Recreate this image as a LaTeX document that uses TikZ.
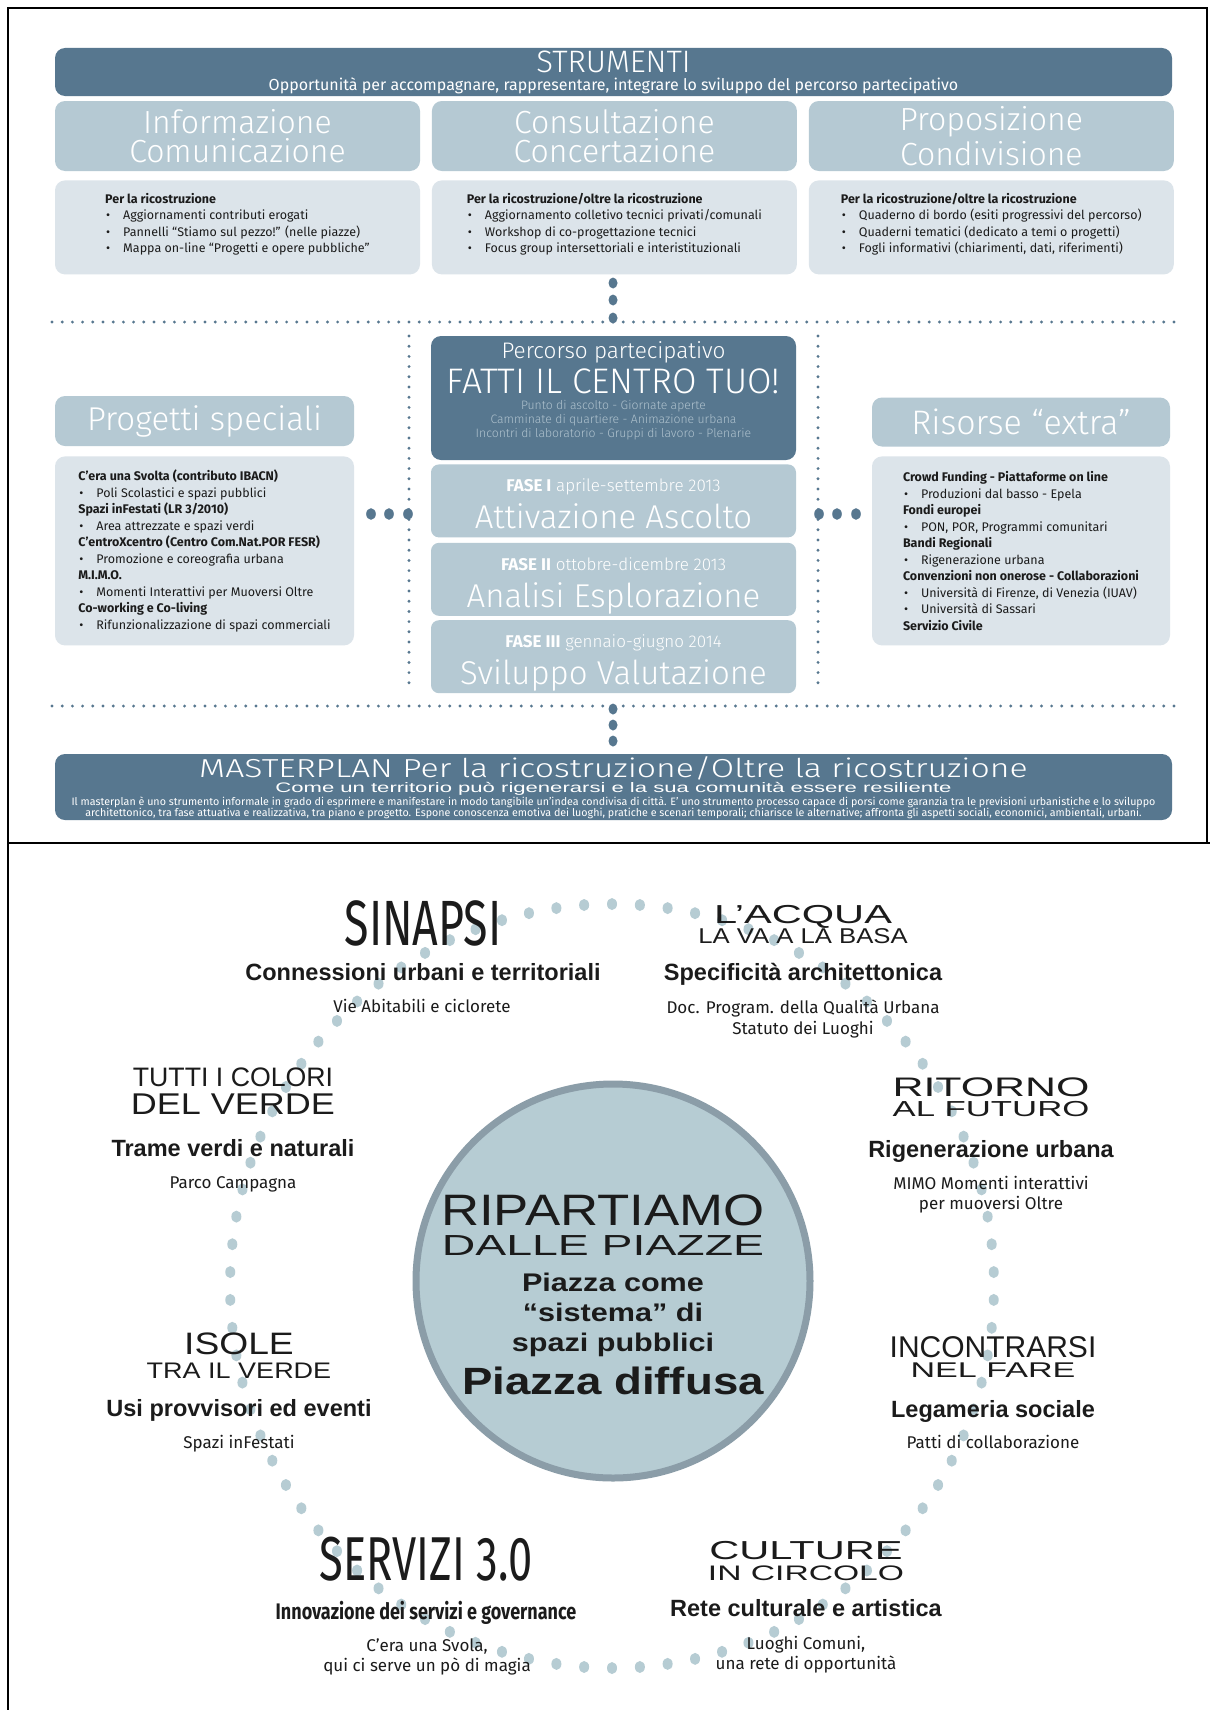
\documentclass[tikz,border=0pt]{standalone}
\usepackage{fontspec}
\setmainfont{Fira Sans}
\newfontfamily\lightfont{Fira Sans Light}
\newfontfamily\spreadfont[FakeStretch=1.3]{Fira Sans Light}
\newfontfamily\condfont[FakeStretch=0.7]{Fira Sans}
\newfontfamily\squeezefont[FakeStretch=0.8]{Fira Sans}
\newfontfamily\flatfont{Liberation Sans}
\newfontfamily\widefont[FakeStretch=1.2]{Liberation Sans}
\newfontfamily\widerfont[FakeStretch=1.6]{Liberation Sans}
\usetikzlibrary{positioning}

\definecolor{slate}{HTML}{57778F}
\definecolor{mist}{HTML}{B5C9D3}
\definecolor{pale}{HTML}{DCE4EA}
\definecolor{bead}{HTML}{B6CCD3}
\definecolor{rim}{HTML}{8B9DA8}
\definecolor{ink}{HTML}{1B1B1B}
\definecolor{faint}{HTML}{AFC2CE}

\newcommand{\fsz}[2]{\fontsize{#1}{#2}\selectfont}
\newcommand{\itm}[1]{\\\hspace*{1pt}\makebox[17pt][l]{\textbullet}#1}

\begin{document}
\begin{tikzpicture}[x=1pt, y=-1pt,
  band/.style={fill=slate, rounded corners=10pt, inner sep=0pt},
  tab/.style={fill=mist, rounded corners=10pt, inner sep=0pt, text=white, align=center},
  panel/.style={fill=pale, rounded corners=10pt, inner sep=0pt, align=left, text=ink, font=\fsz{12.5}{16.5}},
  fase/.style={fill=mist, rounded corners=8pt, inner sep=0pt, minimum width=365pt, minimum height=73pt},
  txt/.style={inner sep=0pt, text depth=0pt},
  topic/.style={txt, text=ink, font=\flatfont\bfseries\fsz{23.5}{23.5}},
  note/.style={txt, text=ink, align=center, font=\fsz{17}{20.5}},
  dotline/.style={slate, line width=3.2pt, line cap=round, dash pattern=on 0pt off 10.2pt}]

\fill[white] (0,0) rectangle (1210,1710);
\useasboundingbox (0,0) rectangle (1210,1710);
\draw[line width=2pt] (8,1710) -- (8,8) -- (1207,8) -- (1207,843);
\draw[line width=2pt] (8,843) -- (1210,843);

% strumenti
\node[band, minimum width=1117pt, minimum height=48pt] (strumenti) at (613.5,72) {};
\node[txt, white, font=\lightfont\fsz{31}{31}] (strumenti_t) at (613.5,62) {STRUMENTI};
\node[txt, white, font=\fsz{16}{16}] (strumenti_s) at (613.5,84) {Opportunità per accompagnare, rappresentare, integrare lo sviluppo del percorso partecipativo};

\node[tab, minimum width=365pt, minimum height=70pt, font=\lightfont\fsz{32}{29}] (info) at (237.5,136) {Informazione\\Comunicazione};
\node[tab, minimum width=365pt, minimum height=70pt, font=\lightfont\fsz{32}{29}, right=11.5pt of info] (consult) {Consultazione\\Concertazione};
\node[tab, minimum width=365pt, minimum height=70pt, font=\lightfont\fsz{32}{35}, right=11.5pt of consult] (propos) {Proposizione\\Condivisione};

\node[panel, text depth=9pt, minimum width=365pt, minimum height=94pt, below=9pt of info] (info_list) {\textbf{Per la ricostruzione}\itm{Aggiornamenti contributi erogati}\itm{Pannelli “Stiamo sul pezzo!” (nelle piazze)}\itm{Mappa on-line “Progetti e opere pubbliche”}};
\node[panel, text depth=9pt, minimum width=365pt, minimum height=94pt, below=9pt of consult] (consult_list) {\textbf{Per la ricostruzione/oltre la ricostruzione}\itm{Aggiornamento colletivo tecnici privati/comunali}\itm{Workshop di co-progettazione tecnici}\itm{Focus group intersettoriali e interistituzionali}};
\node[panel, text depth=9pt, minimum width=365pt, minimum height=94pt, below=9pt of propos] (propos_list) {\textbf{Per la ricostruzione/oltre la ricostruzione}\itm{Quaderno di bordo (esiti progressivi del percorso)}\itm{Quaderni tematici (dedicato a temi o progetti)}\itm{Fogli informativi (chiarimenti, dati, riferimenti)}};

\foreach \y in {283,300,318} \fill[slate] (613,\y) ellipse [x radius=4.5, y radius=5.5];
\draw[dotline] (52,322) -- (1174,322);
\draw[dotline] (52,706) -- (1174,706);
\draw[dotline] (409,336) -- (409,692);
\draw[dotline] (818,336) -- (818,692);

% percorso partecipativo
\node[band, minimum width=365pt, minimum height=124pt] (percorso) at (613.5,398) {};
\node[txt, white, font=\lightfont\fsz{22.5}{22.5}] (percorso_t) at (613.5,350) {Percorso partecipativo};
\node[txt, white, font=\lightfont\fsz{35.5}{35.5}] (fatti) at (613.5,381) {FATTI IL CENTRO TUO!};
\node[txt, faint, align=center, font=\lightfont\fsz{12.2}{14}] (fatti_s) at (613.5,419) {Punto di ascolto - Giornate aperte\\Camminate di quartiere - Animazione urbana\\Incontri di laboratorio - Gruppi di lavoro - Plenarie};

\node[fase, below=4pt of percorso] (fase1) {};
\node[fase, below=5pt of fase1] (fase2) {};
\node[fase, below=4pt of fase2] (fase3) {};
\node[txt, white, font=\lightfont\fsz{17}{17}] (fase1_d) at ([yshift=15.5pt]fase1.center) {{\normalfont\bfseries FASE I} aprile-settembre 2013};
\node[txt, white, font=\lightfont\fsz{33}{33}] (fase1_t) at ([yshift=-15.5pt]fase1.center) {Attivazione Ascolto};
\node[txt, white, font=\lightfont\fsz{17}{17}] (fase2_d) at ([yshift=15.5pt]fase2.center) {{\normalfont\bfseries FASE II} ottobre-dicembre 2013};
\node[txt, white, font=\lightfont\fsz{33}{33}] (fase2_t) at ([yshift=-15.5pt]fase2.center) {Analisi Esplorazione};
\node[txt, white, font=\lightfont\fsz{17}{17}] (fase3_d) at ([yshift=15.5pt]fase3.center) {{\normalfont\bfseries FASE III} gennaio-giugno 2014};
\node[txt, white, font=\lightfont\fsz{33}{33}] (fase3_t) at ([yshift=-15.5pt]fase3.center) {Sviluppo Valutazione};

% side columns
\node[tab, minimum width=299pt, minimum height=50pt, font=\lightfont\fsz{33}{33}] (progetti) at (204.5,421) {Progetti speciali};
\node[panel, minimum width=299pt, minimum height=189pt, below=10pt of progetti] (progetti_list) {\textbf{C’era una Svolta (contributo IBACN)}\itm{Poli Scolastici e spazi pubblici}\\\textbf{Spazi inFestati (LR 3/2010)}\itm{Area attrezzate e spazi verdi}\\\textbf{C’entroXcentro (Centro Com.Nat.POR FESR)}\itm{Promozione e coreografia urbana}\\\textbf{M.I.M.O.}\itm{Momenti Interattivi per Muoversi Oltre}\\\textbf{Co-working e Co-living}\itm{Rifunzionalizzazione di spazi commerciali}};
\node[tab, minimum width=298pt, minimum height=49pt, font=\lightfont\fsz{34}{34}] (risorse) at (1021,422) {Risorse “extra”};
\node[panel, minimum width=298pt, minimum height=189pt, below=9.5pt of risorse] (risorse_list) {\textbf{Crowd Funding - Piattaforme on line}\itm{Produzioni dal basso - Epela}\\\textbf{Fondi europei}\itm{PON, POR, Programmi comunitari}\\\textbf{Bandi Regionali}\itm{Rigenerazione urbana}\\\textbf{Convenzioni non onerose - Collaborazioni}\itm{Università di Firenze, di Venezia (IUAV)}\itm{Università di Sassari}\\\textbf{Servizio Civile}};
\foreach \x in {371,389,408} \fill[slate] (\x,514) ellipse [x radius=4.8, y radius=5.8];
\foreach \x in {819,837,856} \fill[slate] (\x,514) ellipse [x radius=4.8, y radius=5.8];
\foreach \y in {709,725,741} \fill[slate] (613,\y) ellipse [x radius=4.5, y radius=5.5];

% masterplan
\node[band, minimum width=1117pt, minimum height=66pt] (masterplan) at (613.5,787) {};
\node[txt, white, font=\spreadfont\fsz{26}{26}] (masterplan_t) at (613.5,767) {MASTERPLAN Per la ricostruzione/Oltre la ricostruzione};
\node[txt, white, font=\widerfont\fsz{13.8}{13.8}] (masterplan_s) at (613.5,787) {Come un territorio può rigenerarsi e la sua comunità essere resiliente};
\node[txt, white, align=center, font=\fsz{10.7}{11.5}] (masterplan_d) at (613.5,806.5) {Il masterplan è uno strumento informale in grado di esprimere e manifestare in modo tangibile un’indea condivisa di città. E’ uno strumento processo capace di porsi come garanzia tra le previsioni urbanistiche e lo sviluppo\\architettonico, tra fase attuativa e realizzativa, tra piano e progetto. Espone conoscenza emotiva dei luoghi, pratiche e scenari temporali; chiarisce le alternative; affronta gli aspetti sociali, economici, ambientali, urbani.};

% ring of dots round the square
\coordinate (ring) at (612,1286);
\foreach \k in {0,...,85} \fill[bead] ([shift={({90+4.186047*\k}:382)}]ring) ellipse [x radius=5, y radius=6];
\node[circle, fill=bead, draw=rim, line width=7pt, minimum size=394pt] (piazza) at (613,1281) {};
\node[txt, ink, font=\widefont\fsz{44}{44}] (piazza_a) at (603,1210) {RIPARTIAMO};
\node[txt, ink, font=\widerfont\fsz{29}{29}] (piazza_b) at (603,1246) {DALLE PIAZZE};
\node[txt, ink, align=center, font=\widefont\bfseries\fsz{25.5}{30}] (piazza_c) at (613,1312) {Piazza come\\“sistema” di\\spazi pubblici};
\node[txt, ink, font=\widefont\bfseries\fsz{38}{38}] (piazza_d) at (613,1381) {Piazza diffusa};

\node[txt, ink, font=\condfont\fsz{64}{64}] (sinapsi) at (423,923) {SINAPSI};
\node[topic] (sinapsi_topic) at (423,972) {Connessioni urbani e territoriali};
\node[note] (sinapsi_note) at (422,1006) {Vie Abitabili e ciclorete};

\node[txt, ink, font=\widerfont\fsz{26}{26}] (acqua_a) at (803,914) {L’ACQUA};
\node[txt, ink, font=\widefont\fsz{21.4}{21.4}] (acqua_b) at (803,936) {LA VA A LA BASA};
\node[topic] (acqua_topic) at (803,972) {Specificità architettonica};
\node[note] (acqua_note) at (803,1017) {Doc. Program. della Qualità Urbana\\Statuto dei Luoghi};

\node[txt, ink, font=\flatfont\fsz{26.7}{26.7}] (colori_a) at (233,1077) {TUTTI I COLORI};
\node[txt, ink, font=\widefont\fsz{30}{30}] (colori_b) at (233,1104) {DEL VERDE};
\node[topic] (colori_topic) at (233,1148) {Trame verdi e naturali};
\node[note] (colori_note) at (233,1183) {Parco Campagna};

\node[txt, ink, font=\widerfont\fsz{26.8}{26.8}] (ritorno_a) at (991,1087) {RITORNO};
\node[txt, ink, font=\widerfont\fsz{21.7}{21.7}] (ritorno_b) at (991,1109) {AL FUTURO};
\node[topic] (ritorno_topic) at (991,1149) {Rigenerazione urbana};
\node[note] (ritorno_note) at (991,1193) {MIMO Momenti interattivi\\per muoversi Oltre};

\node[txt, ink, font=\widefont\fsz{31}{31}] (isole_a) at (239,1344) {ISOLE};
\node[txt, ink, font=\widefont\fsz{22.5}{22.5}] (isole_b) at (239,1371) {TRA IL VERDE};
\node[topic] (isole_topic) at (239,1408) {Usi provvisori ed eventi};
\node[note] (isole_note) at (239,1442) {Spazi inFestati};

\node[txt, ink, font=\flatfont\fsz{30}{30}] (incontri_a) at (993,1347) {INCONTRARSI};
\node[txt, ink, font=\widerfont\fsz{21.3}{21.3}] (incontri_b) at (993,1370) {NEL FARE};
\node[topic] (incontri_topic) at (993,1409) {Legameria sociale};
\node[note] (incontri_note) at (993,1442) {Patti di collaborazione};

\node[txt, ink, font=\condfont\fsz{62}{62}] (servizi) at (426,1559) {SERVIZI 3.0};
\node[txt, ink, font=\squeezefont\bfseries\fsz{22.5}{22.5}] (servizi_topic) at (426,1610) {Innovazione dei servizi e governance};
\node[note] (servizi_note) at (427,1655) {C’era una Svola,\\qui ci serve un pò di magia};

\node[txt, ink, font=\widerfont\fsz{26}{26}] (culture_a) at (806,1550) {CULTURE};
\node[txt, ink, font=\widerfont\fsz{21}{21}] (culture_b) at (806,1573) {IN CIRCOLO};
\node[topic] (culture_topic) at (806,1608) {Rete culturale e artistica};
\node[note] (culture_note) at (806,1653) {Luoghi Comuni,\\una rete di opportunità};
\end{tikzpicture}
\end{document}
